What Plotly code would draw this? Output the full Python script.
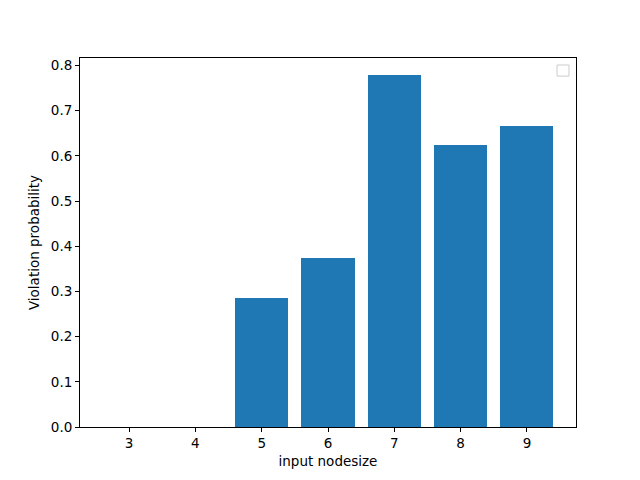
import plotly.graph_objects as go

# input nodesize vs violation probability
nodesize = [3, 4, 5, 6, 7, 8, 9]
violation_prob = [0.0, 0.0, 0.286, 0.375, 0.778, 0.625, 0.667]

font = dict(family="DejaVu Sans", size=13.5, color="black")

fig = go.Figure()
fig.add_trace(go.Bar(x=nodesize, y=violation_prob, width=0.8,
                     marker=dict(color="#1f77b4", line=dict(width=0)),
                     showlegend=False))

# matplotlib draws an empty legend box when no labels are given
fig.add_shape(type="rect", xref="paper", yref="paper",
              x0=0.9617, x1=0.9859, y0=0.951, y1=0.981,
              line=dict(color="#cccccc", width=1), fillcolor="white")

fig.update_xaxes(range=[2.26, 9.74], tickmode="array", tickvals=nodesize,
                 ticks="outside", ticklen=4, tickcolor="black",
                 showline=True, linecolor="black", linewidth=1, mirror=True,
                 showgrid=False, zeroline=False,
                 title=dict(text="input nodesize", font=font, standoff=6),
                 tickfont=font)
fig.update_yaxes(range=[0, 0.8167], dtick=0.1, tick0=0, tickformat=".1f",
                 ticks="outside", ticklen=4, tickcolor="black",
                 showline=True, linecolor="black", linewidth=1, mirror=True,
                 showgrid=False, zeroline=False,
                 title=dict(text="Violation probability", font=font, standoff=8),
                 tickfont=font)
# page body has an 8px margin, so shift plot area back by 8px
fig.update_layout(width=640, height=480, plot_bgcolor="white", paper_bgcolor="white",
                  margin=dict(l=72, r=72, t=50, b=61, autoexpand=False),
                  bargap=0, font=font)

fig.write_html("out.html")
